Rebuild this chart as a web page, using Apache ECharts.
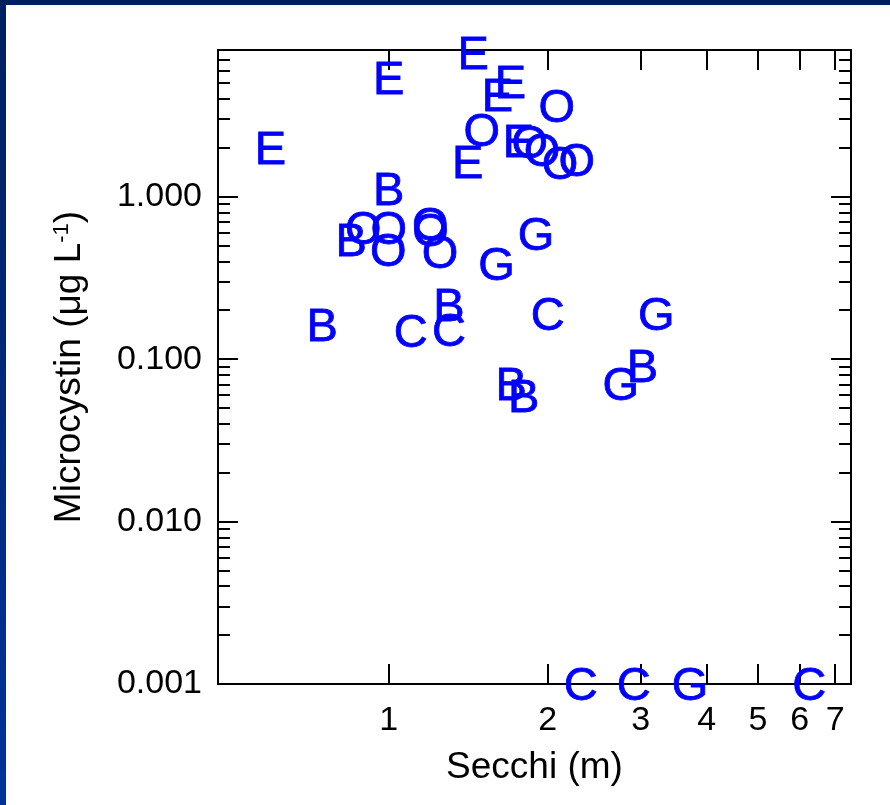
<!DOCTYPE html>
<html>
<head>
<meta charset="utf-8">
<script src="https://cdn.jsdelivr.net/npm/echarts@6/dist/echarts.min.js"></script>
<style>
  html, body { margin: 0; padding: 0; background: #ffffff; }
  #chart { width: 890px; height: 805px; }
</style>
</head>
<body>
<div id="chart"></div>
<script>
// Secchi depth (m) and microcystin (µg/L) per lake, one pair of arrays per lake code
const bSecchi = [1.00, 0.849, 1.30, 0.748, 1.705, 1.80, 3.02];
const bMicro  = [1.12, 0.543, 0.216, 0.163, 0.0705, 0.0594, 0.091];

const cSecchi = [2.00, 1.10, 1.30, 2.31, 2.91, 6.25];
const cMicro  = [0.190, 0.149, 0.152, 0.001, 0.001, 0.001];

const eSecchi = [0.597, 1.00, 1.445, 1.70, 1.605, 1.76, 1.41];
const eMicro  = [2.00, 5.41, 7.71, 5.11, 4.25, 2.21, 1.64];

const gSecchi = [1.90, 1.60, 3.21, 2.75, 3.72];
const gMicro  = [0.592, 0.387, 0.190, 0.0705, 0.001];

const oSecchi = [2.08, 1.50, 1.85, 1.95, 2.11, 2.27, 0.895, 1.00, 0.998, 1.198, 1.20, 1.25];
const oMicro  = [3.64, 2.59, 2.18, 1.95, 1.62, 1.69, 0.644, 0.644, 0.472, 0.682, 0.626, 0.458];

// Tick labels
const secchiTicks = [1, 2, 3, 4, 5, 6, 7];
const microTicks  = [0.001, 0.01, 0.1, 1];

// Axis ranges (data units)
const secchiRange = [0.475, 7.5];
const microRange  = [0.001, 8];

const lg = Math.log10;
const FONT = '"Liberation Sans", Arial, Helvetica, sans-serif';

// Minor ticks at 2..9 within each decade of the microcystin axis
const microMinor = [];
for (let d = -3; d <= 0; d++) {
  for (let k = 2; k <= 9; k++) {
    const v = k * Math.pow(10, d);
    if (v <= microRange[1] + 1e-9) microMinor.push(lg(v));
  }
}

const lakes = [
  { code: 'B', x: bSecchi, y: bMicro },
  { code: 'C', x: cSecchi, y: cMicro },
  { code: 'E', x: eSecchi, y: eMicro },
  { code: 'G', x: gSecchi, y: gMicro },
  { code: 'O', x: oSecchi, y: oMicro }
];

const lineStyle = { color: '#000', width: 2 };
const xMajor = secchiTicks.map(lg);
const yMajor = microTicks.map(lg);

function xAxisDef(position, withLabels) {
  return {
    type: 'value',
    position: position,
    min: lg(secchiRange[0]),
    max: lg(secchiRange[1]),
    axisLine: { show: true, onZero: false, lineStyle: lineStyle },
    axisTick: { show: true, inside: true, length: 20, customValues: xMajor, lineStyle: lineStyle },
    axisLabel: {
      show: withLabels,
      customValues: xMajor,
      formatter: v => String(Math.round(Math.pow(10, v))),
      fontSize: 34, color: '#000', fontFamily: FONT, margin: 20
    },
    splitLine: { show: false },
    name: withLabels ? 'Secchi (m)' : '',
    nameLocation: 'middle',
    nameGap: 65,
    nameTextStyle: { fontSize: 37, color: '#000', fontFamily: FONT }
  };
}

function yAxisDef(position, ticks, len, withLabels) {
  return {
    type: 'value',
    position: position,
    min: lg(microRange[0]),
    max: lg(microRange[1]),
    axisLine: { show: true, onZero: false, lineStyle: lineStyle },
    axisTick: { show: true, inside: true, length: len, customValues: ticks, lineStyle: lineStyle },
    axisLabel: {
      show: withLabels,
      customValues: ticks,
      formatter: v => Math.pow(10, v).toFixed(3),
      fontSize: 34, color: '#000', fontFamily: FONT, margin: 16
    },
    splitLine: { show: false },
    name: withLabels ? 'Microcystin (\u03bcg L{sup|-1})' : '',
    nameLocation: 'middle',
    nameRotate: 90,
    nameGap: 130,
    nameTextStyle: {
      fontSize: 37, color: '#000', fontFamily: FONT,
      rich: { sup: { fontSize: 22, verticalAlign: 'top', color: '#000', fontFamily: FONT } }
    }
  };
}

const chart = echarts.init(document.getElementById('chart'), null, { renderer: 'canvas' });

chart.setOption({
  animation: false,
  backgroundColor: '#ffffff',
  grid: { left: 218, top: 50, right: 39, bottom: 121, containLabel: false },
  xAxis: [xAxisDef('bottom', true), xAxisDef('top', false)],
  yAxis: [
    yAxisDef('left', yMajor, 20, true),
    yAxisDef('left', microMinor, 12, false),
    yAxisDef('right', yMajor, 20, false),
    yAxisDef('right', microMinor, 12, false)
  ],
  series: lakes.map(l => ({
    type: 'scatter',
    name: l.code,
    xAxisIndex: 0,
    yAxisIndex: 0,
    symbolSize: 1,
    itemStyle: { color: 'rgba(0,0,0,0)', opacity: 1 },
    clip: false,
    data: l.x.map((sx, i) => [lg(sx), lg(l.y[i])]),
    label: {
      show: true,
      position: 'inside',
      offset: [0, 3],
      formatter: l.code,
      fontSize: 47,
      color: '#0000ff',
      textBorderColor: '#0000ff',
      textBorderWidth: 0.8,
      opacity: 1,
      fontFamily: FONT
    },
    emphasis: { disabled: true }
  })),
  graphic: [
    {
      type: 'rect', left: 0, top: 0, silent: true,
      shape: { width: 890, height: 5 },
      style: { fill: '#001f5f' }
    },
    {
      type: 'rect', left: 0, top: 0, silent: true,
      shape: { width: 6, height: 805 },
      style: {
        fill: new echarts.graphic.LinearGradient(0, 0, 0, 1, [
          { offset: 0, color: '#001f5f' },
          { offset: 1, color: '#003399' }
        ])
      }
    }
  ]
});
</script>
</body>
</html>
